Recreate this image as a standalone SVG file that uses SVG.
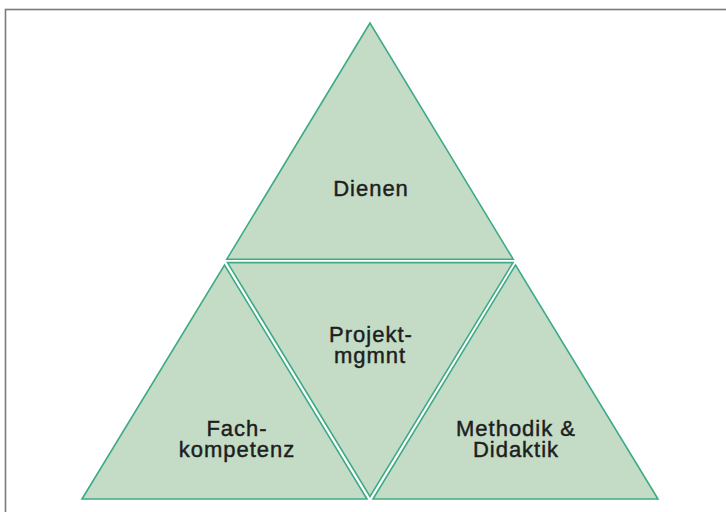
<svg xmlns="http://www.w3.org/2000/svg" width="726" height="512" viewBox="0 0 726 512">
<style>
.tri{fill:#c4dcc6;stroke:#3eab86;stroke-width:1.6;stroke-linejoin:miter}
.lbl{font-family:"Liberation Sans",Arial,sans-serif;font-size:22px;fill:#1e1e1e;stroke:#1e1e1e;stroke-width:0.45;text-anchor:middle;letter-spacing:1px}
</style>
<rect width="726" height="512" fill="#ffffff"/>
<rect x="5.5" y="9.5" width="730" height="520" fill="none" stroke="#7a7a7a" stroke-width="1.6"/>
<g id="dienen">
<polygon class="tri" points="370,23 226.8,259.2 513.2,259.2"/>
<text class="lbl" x="371" y="196">Dienen</text>
</g>
<g id="projektmgmnt">
<polygon class="tri" points="227.5,262.6 513,262.6 370,496.5"/>
<text class="lbl" x="371" y="342">Projekt-</text>
<text class="lbl" x="370" y="363">mgmnt</text>
</g>
<g id="fachkompetenz">
<polygon class="tri" points="82,499 224.5,265 367,499"/>
<text class="lbl" x="237" y="436">Fach-</text>
<text class="lbl" x="237" y="457">kompetenz</text>
</g>
<g id="methodik">
<polygon class="tri" points="373,499 515.5,265 658,499"/>
<text class="lbl" x="516" y="436">Methodik &amp;</text>
<text class="lbl" x="516" y="457">Didaktik</text>
</g>
<g id="connectors"/>
</svg>
